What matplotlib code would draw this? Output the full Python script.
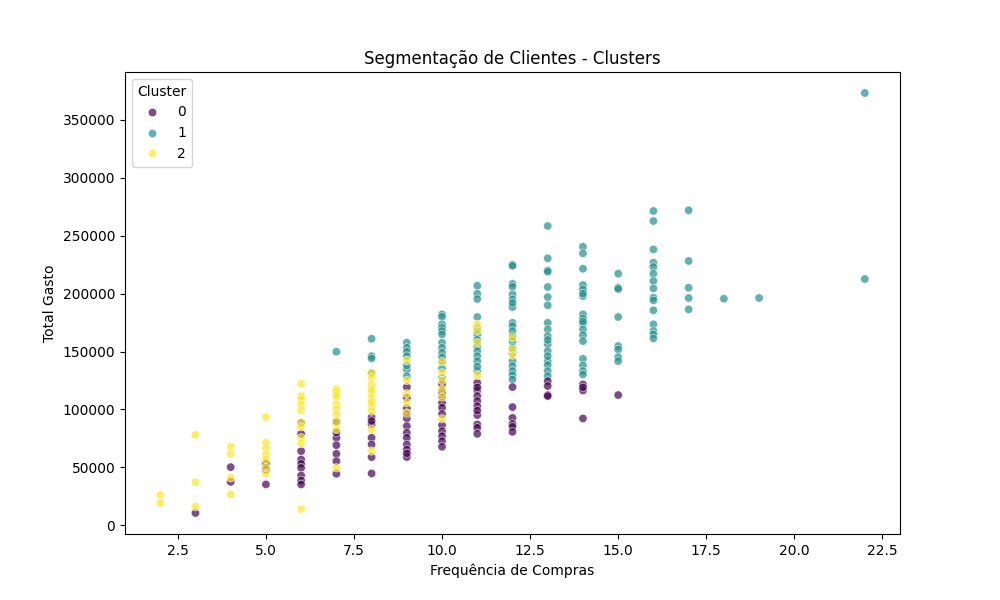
import matplotlib
matplotlib.use("Agg")
import matplotlib.pyplot as plt
import numpy as np
import pandas as pd
import seaborn as sns

# Cluster 0
c0_freq = [3, 4, 4, 5, 5, 5,
           6, 6, 6, 6, 6, 6, 6, 6, 6,
           7, 7, 7, 7, 7, 7, 7,
           8, 8, 8, 8, 8, 8, 8,
           9, 9, 9, 9, 9, 9, 9, 9, 9, 9, 9, 9,
           10, 10, 10, 10, 10, 10, 10, 10, 10, 10, 10,
           11, 11, 11, 11, 11, 11, 11, 11, 11, 11, 11,
           12, 12, 12, 12, 12, 12,
           13, 13, 13, 13,
           14, 14, 14, 14,
           15]
c0_gasto = [10500, 50100, 37400, 53000, 35200, 48000,
            88400, 78900, 64000, 56700, 53000, 49500, 42900, 38600, 35200,
            89300, 75500, 69100, 61600, 55300, 44400, 80000,
            93300, 87000, 75500, 69700, 58800, 44700, 90000,
            119300, 110000, 100800, 92200, 85600, 79800, 75500, 69700, 65400, 58800, 62000, 96000,
            121600, 110600, 105700, 101400, 86400, 81200, 76900, 72600, 67700, 115000, 96000,
            123000, 116400, 111500, 107200, 102800, 95100, 87000, 84100, 78900, 119000, 99000,
            119300, 102000, 92700, 87500, 85000, 80600,
            124400, 120200, 112400, 111500,
            121600, 116400, 92200, 119000,
            112400]

# Cluster 1
c1_freq = [7,
           8, 8, 8, 8,
           9, 9, 9, 9, 9, 9, 9,
           10, 10, 10, 10, 10, 10, 10, 10, 10, 10, 10, 10, 10,
           11, 11, 11, 11, 11, 11, 11, 11, 11, 11, 11, 11, 11,
           12, 12, 12, 12, 12, 12, 12, 12, 12, 12, 12, 12, 12, 12, 12, 12, 12, 12, 12, 12,
           13, 13, 13, 13, 13, 13, 13, 13, 13, 13, 13, 13, 13, 13, 13, 13, 13, 13,
           14, 14, 14, 14, 14, 14, 14, 14, 14, 14, 14, 14, 14, 14, 14, 14, 14, 14,
           15, 15, 15, 15, 15, 15, 15, 15,
           16, 16, 16, 16, 16, 16, 16, 16, 16, 16, 16, 16, 16, 16, 16,
           17, 17, 17, 17, 17,
           18, 19, 22, 22]
c1_gasto = [149800,
            161000, 146000, 144000, 131400,
            157600, 153200, 149800, 134500, 128800, 146000, 138000,
            182100, 173500, 170500, 167700, 164800, 157600, 153200, 148900, 141100, 135400, 127300, 180000, 145000,
            206800, 199900, 195300, 179800, 170000, 164800, 154700, 150400, 146000, 141700, 133100, 160000, 137000,
            225000, 224000, 208500, 199400, 195000, 188400, 174800, 172000, 167700, 163300, 159000, 153200,
            148900, 141700, 137400, 133100, 129600, 125900, 206000, 192000,
            258400, 230500, 220100, 219000, 205700, 197000, 189900, 174800, 169100, 163300, 156200, 150400,
            141700, 138300, 133100, 128800, 146000, 160000,
            240500, 234800, 221500, 207400, 203700, 197900, 182100, 178600, 174000, 169100, 164200, 159000,
            143700, 138000, 133100, 130200, 200000, 176000,
            217200, 205100, 204000, 179800, 154700, 151800, 145200, 141700,
            271400, 262700, 238200, 226700, 223000, 217200, 210900, 204500, 196500, 194200, 185600, 173500,
            167700, 164800, 161300,
            272000, 228200, 205100, 196200, 186400,
            195600, 196200, 373300, 212600]

# Cluster 2
c2_freq = [2, 2,
           3, 3, 3,
           4, 4, 4, 4,
           5, 5, 5, 5, 5, 5, 5,
           6, 6, 6, 6, 6, 6, 6, 6, 6, 6,
           7, 7, 7, 7, 7, 7, 7, 7, 7, 7,
           8, 8, 8, 8, 8, 8, 8, 8, 8, 8, 8,
           9, 9, 9, 9, 9,
           10, 10, 10, 10, 10, 10,
           11, 11, 11, 11,
           12, 12, 12]
c2_gasto = [26000, 19000,
            78000, 37000, 16000,
            67700, 61600, 40900, 26500,
            93300, 71100, 66300, 61100, 56700, 44400, 50000,
            122100, 111500, 108600, 104300, 99100, 88400, 75500, 70600, 13800, 85000,
            117300, 115200, 110000, 104300, 100000, 95700, 89300, 82700, 49500, 112000,
            131400, 127300, 121600, 114400, 110000, 102800, 98500, 82700, 64000, 106000, 117000,
            142300, 113500, 105700, 125000, 97000,
            141100, 131600, 117300, 91900, 110600, 125000,
            173500, 157600, 129400, 168000,
            146900, 162000, 152000]

df = pd.DataFrame({
    'Frequencia': c1_freq + c0_freq + c2_freq,
    'TotalGasto': c1_gasto + c0_gasto + c2_gasto,
    'Cluster': [1] * len(c1_freq) + [0] * len(c0_freq) + [2] * len(c2_freq),
})

plt.figure(figsize=(10, 6))
sns.scatterplot(data=df, x='Frequencia', y='TotalGasto', hue='Cluster',
                palette='viridis', alpha=0.7)
plt.title('Segmentação de Clientes - Clusters')
plt.xlabel('Frequência de Compras')
plt.ylabel('Total Gasto')
plt.savefig('out.png', dpi=100)
